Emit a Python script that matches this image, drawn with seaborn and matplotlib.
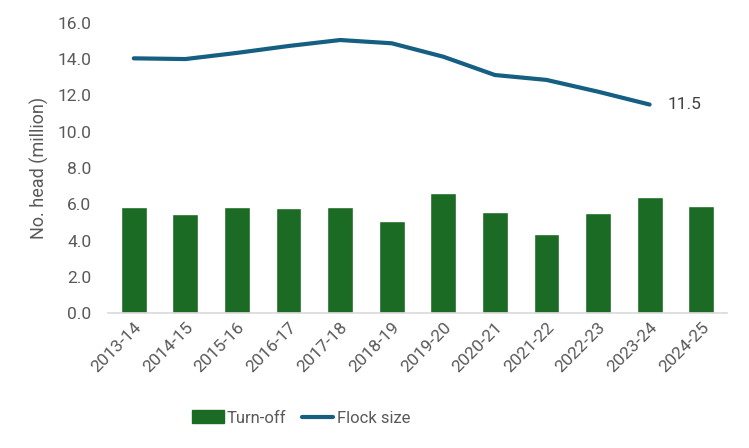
import numpy as np
import pandas as pd
import matplotlib
matplotlib.use("Agg")
import matplotlib.pyplot as plt
import seaborn as sns
from matplotlib.patches import Patch
from matplotlib.lines import Line2D
from matplotlib.ticker import FormatStrFormatter

seasons = ["2013-14", "2014-15", "2015-16", "2016-17", "2017-18", "2018-19",
           "2019-20", "2020-21", "2021-22", "2022-23", "2023-24", "2024-25"]
turn_off = [5.85, 5.46, 5.85, 5.79, 5.85, 5.08, 6.62, 5.57, 4.36, 5.52, 6.40, 5.90]
flock_size = [14.05, 14.01, 14.35, 14.73, 15.06, 14.88, 14.14, 13.13, 12.86, 12.21, 11.5, np.nan]

BAR = "#1b6b24"
LINE = "#156082"
TXT = "#595959"

sns.set_theme(style="white")
plt.rcParams["font.family"] = ["Roboto", "DejaVu Sans"]

df = pd.DataFrame({"season": seasons, "turn_off": turn_off, "flock": flock_size})

fig = plt.figure(figsize=(7.49, 4.48), dpi=100)
ax = fig.add_axes([0.1442, 0.3013, 0.8264, 0.6474])

sns.barplot(data=df, x="season", y="turn_off", color=BAR, width=0.5,
            saturation=1, ax=ax)
dl = df.dropna()
ax.plot(np.arange(len(dl)), dl["flock"].values, color=LINE, lw=3,
        solid_capstyle="round", solid_joinstyle="round")

last = len(dl) - 1
ax.annotate(f"{dl['flock'].values[-1]:.1f}", (last, dl["flock"].values[-1]),
            xytext=(13, 0), textcoords="offset points", va="center", ha="left",
            fontsize=12.5, color="#404040")

ax.set_ylim(0, 16)
ax.set_yticks(np.arange(0, 16.1, 2))
ax.yaxis.set_major_formatter(FormatStrFormatter("%.1f"))
ax.set_xlim(-0.5, len(seasons) - 0.5)
ax.set_xlabel("")
ax.set_ylabel("No. head (million)", fontsize=13, color=TXT, labelpad=6)
ax.tick_params(axis="y", labelsize=12.5, colors=TXT, length=0, pad=12)
ax.tick_params(axis="x", labelsize=12.5, colors=TXT, length=0, pad=5)
for lab in ax.get_xticklabels():
    lab.set_rotation(45)
    lab.set_ha("right")
    lab.set_rotation_mode("anchor")

for s in ["top", "right", "left"]:
    ax.spines[s].set_visible(False)
ax.spines["bottom"].set_color("#d9d9d9")
ax.spines["bottom"].set_linewidth(1.2)
ax.grid(False)

handles = [Patch(facecolor=BAR, edgecolor=BAR, label="Turn-off"),
           Line2D([0], [0], color=LINE, lw=3, solid_capstyle="round", label="Flock size")]
fig.legend(handles=handles, loc="center", bbox_to_anchor=(301 / 749, 1 - 418 / 448),
           ncol=2, frameon=False, fontsize=12, labelcolor=TXT,
           handlelength=1.9, handleheight=0.8, handletextpad=0.2, columnspacing=0.9)

fig.savefig("out.png", dpi=100)
